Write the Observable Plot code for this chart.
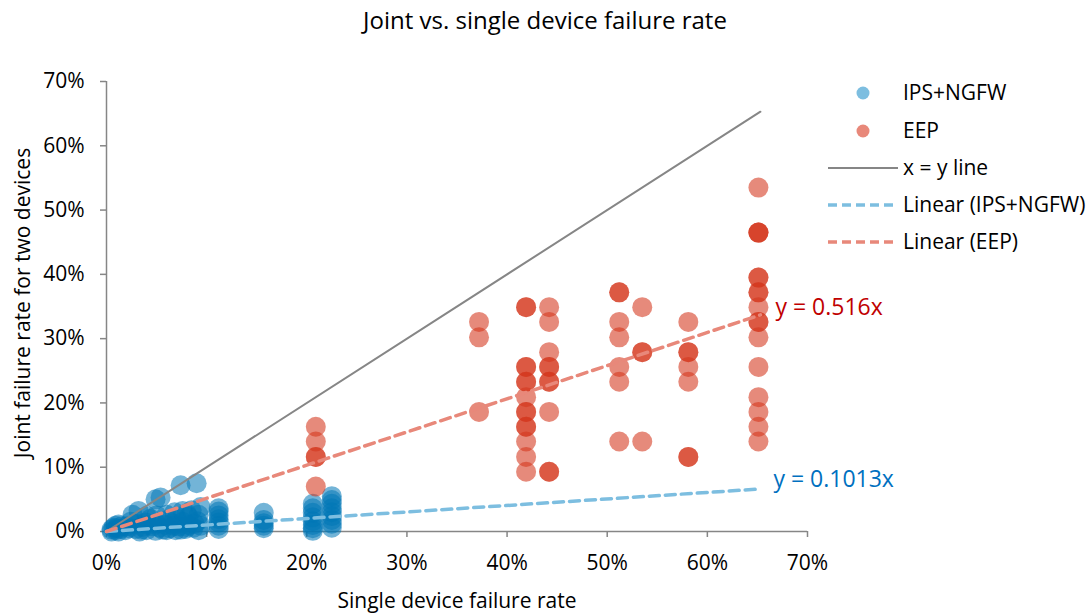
<!DOCTYPE html>
<html>
<head>
<meta charset="utf-8">
<script src="https://cdn.jsdelivr.net/npm/d3@7"></script>
<script src="https://cdn.jsdelivr.net/npm/@observablehq/plot@0.6"></script>
<style>
  html, body { margin: 0; padding: 0; background: #fff; }
  #chart svg { display: block; }
</style>
</head>
<body>
<div id="chart"></div>
<script>
// ---- Data (percent units) ----
const ipsX = [0.5,0.5,0.7,0.9,0.9,1.0,1.2,1.2,1.4,1.5,
              1.9,2.0,2.4,2.6,2.9,3.0,3.2,3.3,
              3.6,3.9,4.0,4.4,4.6,4.9,5.0,4.9,5.4,
              5.6,5.9,6.1,6.3,6.6,6.9,7.0,7.2,7.4,
              7.6,7.9,8.2,8.2,8.5,8.7,9.0,9.1,9.2,9.2,9.4,
              2.2,3.5,4.2,5.3,6.0,6.7,7.4,8.0,8.8,9.4,
              4.0,5.0,6.0,6.8,7.6,8.0,
              11.2,11.2,11.2,11.2,11.2,11.2,11.2,
              15.7,15.7,15.7,15.7,15.7,
              20.6,20.6,20.6,20.6,20.6,20.6,20.6,20.6,
              22.5,22.5,22.5,22.5,22.5,22.5,22.5,22.5,22.5];
const ipsY = [0.0,0.3,0.6,0.2,0.9,0.5,0.0,1.1,0.4,0.8,
              0.2,0.8,1.5,2.6,0.4,1.2,3.2,0.0,
              0.7,1.4,0.2,2.0,0.8,0.1,1.2,5.0,5.3,
              0.3,1.0,1.8,0.5,1.3,0.2,2.0,0.8,7.2,
              1.5,0.4,1.0,2.3,3.3,0.6,7.5,1.6,2.6,0.2,3.8,
              0.5,0.3,1.0,0.6,0.2,0.9,0.3,0.7,1.2,0.9,
              2.4,2.5,2.6,3.0,3.2,2.8,
              0.4,0.9,1.4,1.9,2.5,3.1,3.6,
              0.5,0.9,1.3,1.8,2.9,
              0.1,0.5,1.0,1.6,2.2,2.9,3.6,4.3,
              0.6,1.2,1.8,2.4,3.0,3.6,4.3,4.9,5.5];

const eepX = [20.9,20.9,20.9,20.9,20.9,
              37.2,37.2,37.2,
              41.9,41.9,41.9,41.9,41.9,41.9,41.9,41.9,41.9,41.9,41.9,41.9,41.9,41.9,
              44.2,44.2,44.2,44.2,44.2,44.2,44.2,44.2,44.2,44.2,
              51.2,51.2,51.2,51.2,51.2,51.2,51.2,
              53.5,53.5,53.5,53.5,
              58.1,58.1,58.1,58.1,58.1,58.1,58.1,
              65.1,65.1,65.1,65.1,65.1,65.1,65.1,65.1,65.1,65.1,65.1,65.1,65.1,65.1,65.1,65.1,65.1];
const eepY = [16.3,14.0,11.6,11.6,7.0,
              32.6,30.2,18.6,
              34.9,34.9,25.6,25.6,23.3,23.3,20.9,18.6,18.6,16.3,16.3,14.0,11.6,9.3,
              34.9,32.6,27.9,25.6,25.6,23.3,23.3,18.6,9.3,9.3,
              37.2,37.2,32.6,30.2,25.6,23.3,14.0,
              34.9,27.9,27.9,14.0,
              32.6,27.9,27.9,25.6,23.3,11.6,11.6,
              53.5,46.5,46.5,46.5,39.5,39.5,37.2,37.2,34.9,32.6,32.6,30.2,25.6,20.9,18.6,16.3,14.0];

const lineX = [0, 65.3];          // extent of x = y line and trendlines
const slopeIPS = 0.1013;
const slopeEEP = 0.516;
const axisTicks = [0,10,20,30,40,50,60,70];

const seriesNames = ["IPS+NGFW", "EEP", "x = y line", "Linear (IPS+NGFW)", "Linear (EEP)"];
const labels = ["y = 0.516x", "y = 0.1013x"];

// ---- Tables ----
const ips = ipsX.map((x, i) => ({x: x / 100, y: ipsY[i] / 100}));
const eep = eepX.map((x, i) => ({x: x / 100, y: eepY[i] / 100}));
const xyLine = lineX.map(x => ({x: x / 100, y: x / 100}));
const ipsFit = lineX.map(x => ({x: x / 100, y: slopeIPS * x / 100}));
const eepFit = lineX.map(x => ({x: x / 100, y: slopeEEP * x / 100}));
const ticks = axisTicks.map(t => t / 100);

const blue = "#0077B6", red = "#D4351C";
const blueLight = "#7DBEE0", redLight = "#E8887A";
const gray = "#868686";
const font = "'Open Sans', Lato, sans-serif";

const chart = Plot.plot({
  width: 1091,
  height: 613,
  marginLeft: 106,
  marginRight: 284,
  marginTop: 81,
  marginBottom: 82,
  style: {fontFamily: font, fontSize: "21px", color: "#000", background: "#fff"},
  x: {domain: [0, 0.7]},
  y: {domain: [0, 0.7]},
  marks: [
    Plot.axisX({ticks, tickFormat: d3.format(".0%"), tickSize: 6, tickPadding: 18,
                stroke: gray, strokeWidth: 1.5, fontSize: 21, label: null}),
    Plot.axisY({ticks, tickFormat: d3.format(".0%"), tickSize: 6, tickPadding: 16,
                stroke: gray, strokeWidth: 1.5, fontSize: 21, label: null}),
    Plot.ruleY([0], {stroke: gray, strokeWidth: 1.5}),
    Plot.ruleX([0], {stroke: gray, strokeWidth: 1.5}),
    Plot.dot(ips, {x: "x", y: "y", r: 10, fill: blue, fillOpacity: 0.55, stroke: "none"}),
    Plot.dot(eep, {x: "x", y: "y", r: 10, fill: red, fillOpacity: 0.58, stroke: "none"}),
    Plot.line(xyLine, {x: "x", y: "y", stroke: gray, strokeWidth: 2}),
    Plot.line(ipsFit, {x: "x", y: "y", stroke: blueLight, strokeWidth: 3.5, strokeDasharray: "10,6"}),
    Plot.line(eepFit, {x: "x", y: "y", stroke: redLight, strokeWidth: 3.5, strokeDasharray: "10,6"}),
    Plot.text([eepFit[1]], {x: "x", y: "y", text: () => labels[0], dx: 15, dy: -7, textAnchor: "start",
               fill: "#C00000", fontSize: 23, fontFamily: font}),
    Plot.text([ipsFit[1]], {x: "x", y: "y", text: () => labels[1], dx: 13, dy: -9.5, textAnchor: "start",
               fill: "#0070C0", fontSize: 23, fontFamily: font})
  ]
});

const svg = d3.select(chart);

// Title and axis titles
svg.append("text").attr("x", 545).attr("y", 29).attr("text-anchor", "middle")
  .attr("font-family", font).attr("font-size", 24).attr("fill", "#000")
  .text("Joint vs. single device failure rate");
svg.append("text").attr("x", 457).attr("y", 608).attr("text-anchor", "middle")
  .attr("font-family", font).attr("font-size", 21).attr("fill", "#000")
  .text("Single device failure rate");
svg.append("text").attr("transform", "translate(30,303) rotate(-90)").attr("text-anchor", "middle")
  .attr("font-family", font).attr("font-size", 21).attr("fill", "#000")
  .text("Joint failure rate for two devices");

// Legend
const legend = svg.append("g").attr("font-family", font).attr("font-size", 21).attr("text-anchor", "start");
const rowY = [93, 131, 168, 205, 242];
const kinds = ["dot", "dot", "solid", "dash", "dash"];
const colors = [blueLight, redLight, gray, blueLight, redLight];
seriesNames.forEach((name, i) => {
  const yy = rowY[i];
  if (kinds[i] === "dot") {
    legend.append("circle").attr("cx", 863).attr("cy", yy).attr("r", 6.5).attr("fill", colors[i]);
  } else {
    legend.append("line").attr("x1", 828).attr("x2", 898).attr("y1", yy).attr("y2", yy)
      .attr("stroke", colors[i]).attr("stroke-width", kinds[i] === "solid" ? 2 : 3.5)
      .attr("stroke-dasharray", kinds[i] === "dash" ? "9,5" : null);
  }
  legend.append("text").attr("x", 903).attr("y", yy).attr("dy", "0.35em")
    .attr("text-anchor", "start").attr("fill", "#000").text(name);
});

document.getElementById("chart").appendChild(chart);
</script>
</body>
</html>
